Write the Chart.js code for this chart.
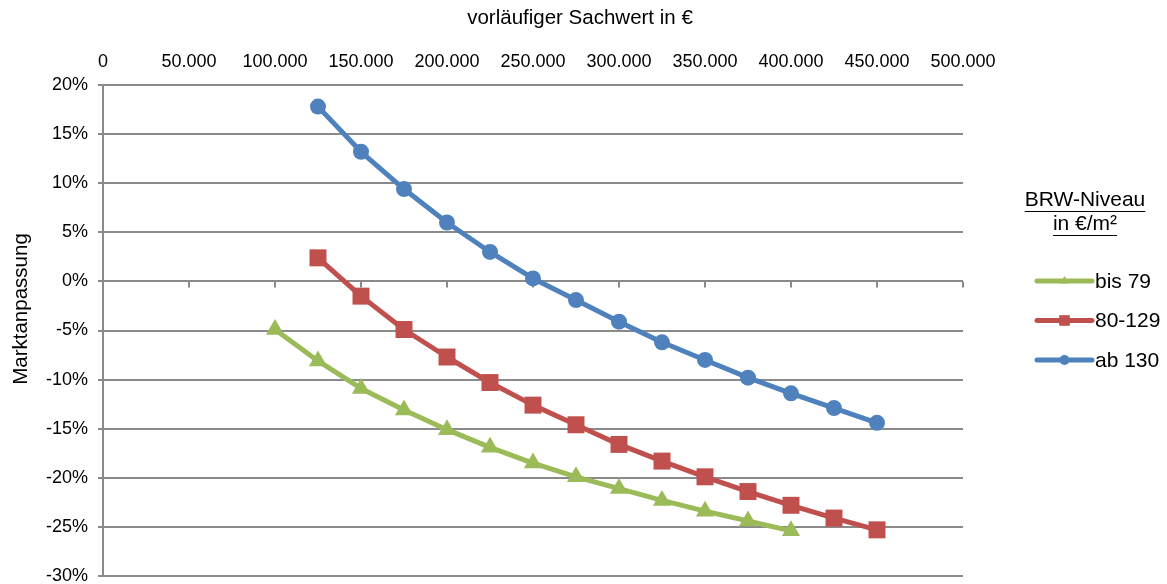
<!DOCTYPE html>
<html>
<head>
<meta charset="utf-8">
<script src="https://cdn.jsdelivr.net/npm/chart.js@4/dist/chart.umd.min.js"></script>
<style>
  html, body { margin: 0; padding: 0; background: #fff; }
  #wrap { width: 1167px; height: 584px; position: relative; }
</style>
</head>
<body>
<div id="wrap"><canvas id="c"></canvas></div>
<script>
// x-Werte (vorläufiger Sachwert in €)
const xBis79 = [100000,125000,150000,175000,200000,225000,250000,275000,300000,325000,350000,375000,400000];
const x80to129 = [125000,150000,175000,200000,225000,250000,275000,300000,325000,350000,375000,400000,425000,450000];
const xAb130 = [125000,150000,175000,200000,225000,250000,275000,300000,325000,350000,375000,400000,425000,450000];

// Marktanpassung in %
const yBis79 = [-4.9,-8.1,-10.9,-13.1,-15.1,-16.9,-18.5,-19.9,-21.1,-22.3,-23.4,-24.4,-25.4];
const y80to129 = [2.4,-1.5,-4.9,-7.7,-10.3,-12.6,-14.6,-16.6,-18.3,-19.9,-21.4,-22.8,-24.1,-25.3];
const yAb130 = [17.8,13.2,9.4,6.0,3.0,0.3,-1.9,-4.1,-6.2,-8.0,-9.8,-11.4,-12.9,-14.4];

const seriesNames = ['bis 79', '80-129', 'ab 130'];
const legendTitle = ['BRW-Niveau', 'in €/m²'];
const xTitle = 'vorläufiger Sachwert in €';
const yTitle = 'Marktanpassung';

const FONT = 'Liberation Sans, Arial, sans-serif';
const C = {
  green: '#9BBB59',
  red: '#C0504D',
  blue: '#4F81BD',
  grid: '#8A8A8A',
  text: '#000000'
};

const pts = (xs, ys) => xs.map((x, i) => ({ x, y: ys[i] }));

function fmtThousands(v) {
  if (v === 0) return '0';
  return String(v).replace(/\B(?=(\d{3})+(?!\d))/g, '.');
}

// Teilstriche auf der 0%-Linie (Excel: Rubrikenachse schneidet bei 0)
const ZeroAxisTicks = {
  id: 'ZeroAxisTicks',
  beforeDatasetsDraw(chart) {
    const { ctx } = chart;
    const xs = chart.scales.x, ys = chart.scales.y;
    const y0 = ys.getPixelForValue(0);
    ctx.save();
    ctx.strokeStyle = C.grid;
    ctx.lineWidth = 2;
    ctx.beginPath();
    xs.ticks.forEach(t => {
      if (t.value === 0) return;
      const px = Math.round(xs.getPixelForValue(t.value));
      ctx.moveTo(px, y0);
      ctx.lineTo(px, y0 + 6);
    });
    ctx.stroke();
    ctx.restore();
  }
};

// Achsentitel wie im Original (nicht über der Plotfläche zentriert)
const AxisTitles = {
  id: 'AxisTitles',
  afterDraw(chart) {
    const { ctx } = chart;
    ctx.save();
    ctx.font = '20.5px ' + FONT;
    ctx.fillStyle = C.text;
    ctx.textAlign = 'center';
    ctx.textBaseline = 'middle';
    ctx.fillText(xTitle, 580, 18);
    ctx.translate(21, 309);
    ctx.rotate(-Math.PI / 2);
    ctx.fillText(yTitle, 0, 0);
    ctx.restore();
  }
};

// Legende rechts mit unterstrichenem Titel
const SideLegend = {
  id: 'SideLegend',
  afterDraw(chart) {
    const { ctx } = chart;
    const cx = 1085;
    ctx.save();
    ctx.font = '21px ' + FONT;
    ctx.fillStyle = C.text;
    ctx.textAlign = 'center';
    ctx.textBaseline = 'middle';
    legendTitle.forEach((t, i) => {
      const ty = 200 + i * 24;
      ctx.fillText(t, cx, ty);
      const w = ctx.measureText(t).width;
      ctx.strokeStyle = C.text;
      ctx.lineWidth = 1;
      ctx.beginPath();
      ctx.moveTo(cx - w / 2, ty + 11.5);
      ctx.lineTo(cx + w / 2, ty + 11.5);
      ctx.stroke();
    });

    chart.data.datasets.forEach((ds, i) => {
      const ly = 281 + i * 39.5;
      const x1 = 1037, x2 = 1092;
      ctx.strokeStyle = ds.borderColor;
      ctx.lineWidth = 5;
      ctx.lineCap = 'round';
      ctx.beginPath();
      ctx.moveTo(x1, ly);
      ctx.lineTo(x2, ly);
      ctx.stroke();
      ctx.fillStyle = ds.borderColor;
      Chart.helpers.drawPoint(ctx, {
        pointStyle: ds.pointStyle,
        radius: ds.pointStyle === 'rect' ? 7.5 : 5,
        borderWidth: 0
      }, (x1 + x2) / 2, ly);
      ctx.fillStyle = C.text;
      ctx.textAlign = 'left';
      ctx.fillText(ds.label, 1095, ly + 1);
    });
    ctx.restore();
  }
};

new Chart(document.getElementById('c'), {
  type: 'line',
  data: {
    datasets: [
      {
        label: seriesNames[0],
        data: pts(xBis79, yBis79),
        borderColor: C.green,
        backgroundColor: C.green,
        pointStyle: 'triangle',
        pointRadius: 10.5,
        borderWidth: 5,
        pointBorderWidth: 0
      },
      {
        label: seriesNames[1],
        data: pts(x80to129, y80to129),
        borderColor: C.red,
        backgroundColor: C.red,
        pointStyle: 'rect',
        pointRadius: 12,
        borderWidth: 5,
        pointBorderWidth: 0
      },
      {
        label: seriesNames[2],
        data: pts(xAb130, yAb130),
        borderColor: C.blue,
        backgroundColor: C.blue,
        pointStyle: 'circle',
        pointRadius: 8,
        borderWidth: 5,
        pointBorderWidth: 0
      }
    ]
  },
  options: {
    responsive: true,
    maintainAspectRatio: false,
    animation: false,
    layout: { autoPadding: false, padding: { top: 0, left: 0, right: 204, bottom: 8 } },
    plugins: {
      legend: { display: false },
      tooltip: { enabled: false }
    },
    elements: {
      line: { tension: 0, borderJoinStyle: 'round' }
    },
    scales: {
      x: {
        type: 'linear',
        position: 'top',
        min: 0,
        max: 500000,
        grid: { display: false, drawTicks: false },
        border: { display: false },
        ticks: {
          stepSize: 50000,
          padding: 12,
          color: C.text,
          maxRotation: 0,
          autoSkip: false,
          font: { family: FONT, size: 18 },
          callback: v => fmtThousands(v)
        },
        afterFit(scale) { scale.height = 85; }
      },
      y: {
        type: 'linear',
        min: -30,
        max: 20,
        grid: { color: C.grid, lineWidth: 2, tickLength: 5, drawTicks: true },
        border: { display: true, color: C.grid, width: 2 },
        ticks: {
          stepSize: 5,
          padding: 10,
          color: C.text,
          font: { family: FONT, size: 18 },
          callback: v => v + '%'
        },
        afterFit(scale) {
          scale.width = 103;
          scale.paddingTop = 0;
          scale.paddingBottom = 0;
        }
      }
    }
  },
  plugins: [ZeroAxisTicks, AxisTitles, SideLegend]
});
</script>
</body>
</html>
